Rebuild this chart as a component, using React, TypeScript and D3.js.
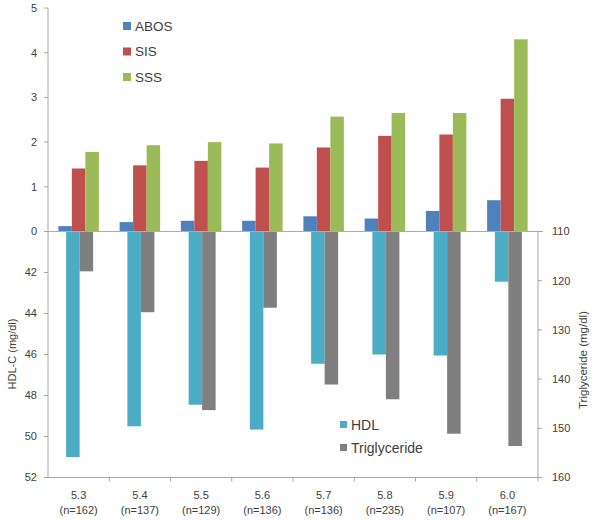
import React from "react";
import * as d3 from "d3";

const categories = ["5.3", "5.4", "5.5", "5.6", "5.7", "5.8", "5.9", "6.0"];
const counts = ["(n=162)", "(n=137)", "(n=129)", "(n=136)", "(n=136)", "(n=235)", "(n=107)", "(n=167)"];

const upperSeries = ["ABOS", "SIS", "SSS"];
const abos = [0.12, 0.21, 0.24, 0.24, 0.34, 0.29, 0.46, 0.7];
const sis = [1.41, 1.48, 1.58, 1.43, 1.88, 2.14, 2.17, 2.97];
const sss = [1.78, 1.93, 2.0, 1.97, 2.57, 2.65, 2.65, 4.3];

const lowerSeries = ["HDL", "Triglyceride"];
const hdl = [51.0, 49.5, 48.45, 49.66, 46.45, 46.0, 46.05, 42.45];
const trig = [118.1, 126.4, 146.3, 125.5, 141.1, 144.1, 151.1, 153.6];

const upperTicks = [0, 1, 2, 3, 4, 5];
const hdlTicks = [42, 44, 46, 48, 50, 52];
const trigTicks = [110, 120, 130, 140, 150, 160];

const upperColors = ["#4f81bd", "#c0504d", "#9bbb59"];
const lowerColors = ["#4bacc6", "#7f7f7f"];

const W = 600;
const H = 520;
const left = 48;
const right = 538;
const zeroY = 231.5;
const bottomY = 477.5;
const topY = 8;

const font = "'Liberation Sans', Arial, sans-serif";
const textColor = "#404040";
const axisColor = "#a6a6a6";

export default function App() {
  const x = d3.scaleBand<string>().domain(categories).range([left, right]).padding(0);
  const bw = x.bandwidth();
  const yUp = d3.scaleLinear().domain([0, 5]).range([zeroY, topY]);
  const yHdl = d3.scaleLinear().domain([40, 52]).range([zeroY, bottomY]);
  const yTrig = d3.scaleLinear().domain([110, 160]).range([zeroY, bottomY]);

  const upperData = [abos, sis, sss];
  const lowerData = [hdl, trig];

  const upGroupW = 40.5;
  const lowGroupW = 27;
  const xUpInner = d3.scaleBand<string>().domain(upperSeries).range([0, upGroupW]);
  const xLowInner = d3.scaleBand<string>().domain(lowerSeries).range([0, lowGroupW]);

  return (
    <div style={{ position: "absolute", left: 0, top: 0 }}>
      <svg width={W} height={H} style={{ display: "block", background: "#fff" }} fontFamily={font}>
        {/* upper bars */}
        {upperSeries.map((s, si) =>
          categories.map((c, i) => {
            const x0 = (x(c) as number) + (bw - upGroupW) / 2 + (xUpInner(s) as number);
            const v = upperData[si][i];
            return (
              <rect
                key={s + c}
                x={x0}
                y={yUp(v)}
                width={xUpInner.bandwidth()}
                height={zeroY - yUp(v)}
                fill={upperColors[si]}
              />
            );
          })
        )}
        {/* lower bars */}
        {categories.map((c, i) => {
          const base = (x(c) as number) + (bw - lowGroupW) / 2 + 1;
          return (
            <g key={"low" + c}>
              <rect
                x={base + (xLowInner("HDL") as number)}
                y={zeroY}
                width={xLowInner.bandwidth()}
                height={yHdl(hdl[i]) - zeroY}
                fill={lowerColors[0]}
              />
              <rect
                x={base + (xLowInner("Triglyceride") as number)}
                y={zeroY}
                width={xLowInner.bandwidth()}
                height={yTrig(trig[i]) - zeroY}
                fill={lowerColors[1]}
              />
            </g>
          );
        })}

        {/* zero line */}
        <line x1={left} x2={right + 5} y1={zeroY} y2={zeroY} stroke="#8db3e2" strokeWidth={1.2} />

        {/* left axis */}
        <line x1={left} x2={left} y1={topY} y2={bottomY} stroke={axisColor} strokeWidth={1} />
        {upperTicks.map((t) => (
          <g key={"u" + t}>
            <line x1={left - 4} x2={left} y1={yUp(t)} y2={yUp(t)} stroke={axisColor} />
            <text x={37} y={yUp(t)} dy="0.35em" textAnchor="end" fontSize={11} fill={textColor}>
              {t}
            </text>
          </g>
        ))}
        {hdlTicks.map((t) => (
          <g key={"h" + t}>
            <line x1={left - 4} x2={left} y1={yHdl(t)} y2={yHdl(t)} stroke={axisColor} />
            <text x={37} y={yHdl(t)} dy="0.35em" textAnchor="end" fontSize={11} fill={textColor}>
              {t}
            </text>
          </g>
        ))}
        <text
          transform={`translate(16,${354}) rotate(-90)`}
          textAnchor="middle"
          fontSize={11}
          fill={textColor}
        >
          HDL-C (mg/dl)
        </text>

        {/* right axis */}
        <line x1={right} x2={right} y1={zeroY} y2={bottomY} stroke={axisColor} strokeWidth={1} />
        {trigTicks.map((t) => (
          <g key={"t" + t}>
            <line x1={right} x2={right + 4} y1={yTrig(t)} y2={yTrig(t)} stroke={axisColor} />
            <text x={552} y={yTrig(t)} dy="0.35em" textAnchor="start" fontSize={11} fill={textColor}>
              {t}
            </text>
          </g>
        ))}
        <text
          transform={`translate(587,${360}) rotate(-90)`}
          textAnchor="middle"
          fontSize={11.5}
          fill={textColor}
        >
          Triglyceride (mg/dl)
        </text>

        {/* bottom axis */}
        <line x1={left} x2={right} y1={bottomY} y2={bottomY} stroke={axisColor} strokeWidth={1} />
        {categories.map((c) => (
          <line
            key={"bt" + c}
            x1={(x(c) as number) + bw}
            x2={(x(c) as number) + bw}
            y1={bottomY}
            y2={bottomY + 4}
            stroke={axisColor}
          />
        ))}
        {categories.map((c, i) => (
          <g key={"bl" + c}>
            <text x={(x(c) as number) + bw / 2} y={499} textAnchor="middle" fontSize={11} fill={textColor}>
              {c}
            </text>
            <text x={(x(c) as number) + bw / 2} y={514} textAnchor="middle" fontSize={11} fill={textColor}>
              {counts[i]}
            </text>
          </g>
        ))}

        {/* upper legend */}
        {upperSeries.map((s, i) => (
          <g key={"lg" + s}>
            <rect x={123} y={22 + i * 25.5} width={8} height={8} fill={upperColors[i]} />
            <text x={135} y={26 + i * 25.5} dy="0.35em" fontSize={13.5} fill={textColor}>
              {s}
            </text>
          </g>
        ))}

        {/* lower legend */}
        {lowerSeries.map((s, i) => (
          <g key={"ll" + s}>
            <rect x={340} y={421 + i * 23} width={7} height={7} fill={lowerColors[i]} />
            <text x={351} y={425 + i * 23} dy="0.35em" fontSize={14} fill={textColor}>
              {s}
            </text>
          </g>
        ))}
      </svg>
    </div>
  );
}
